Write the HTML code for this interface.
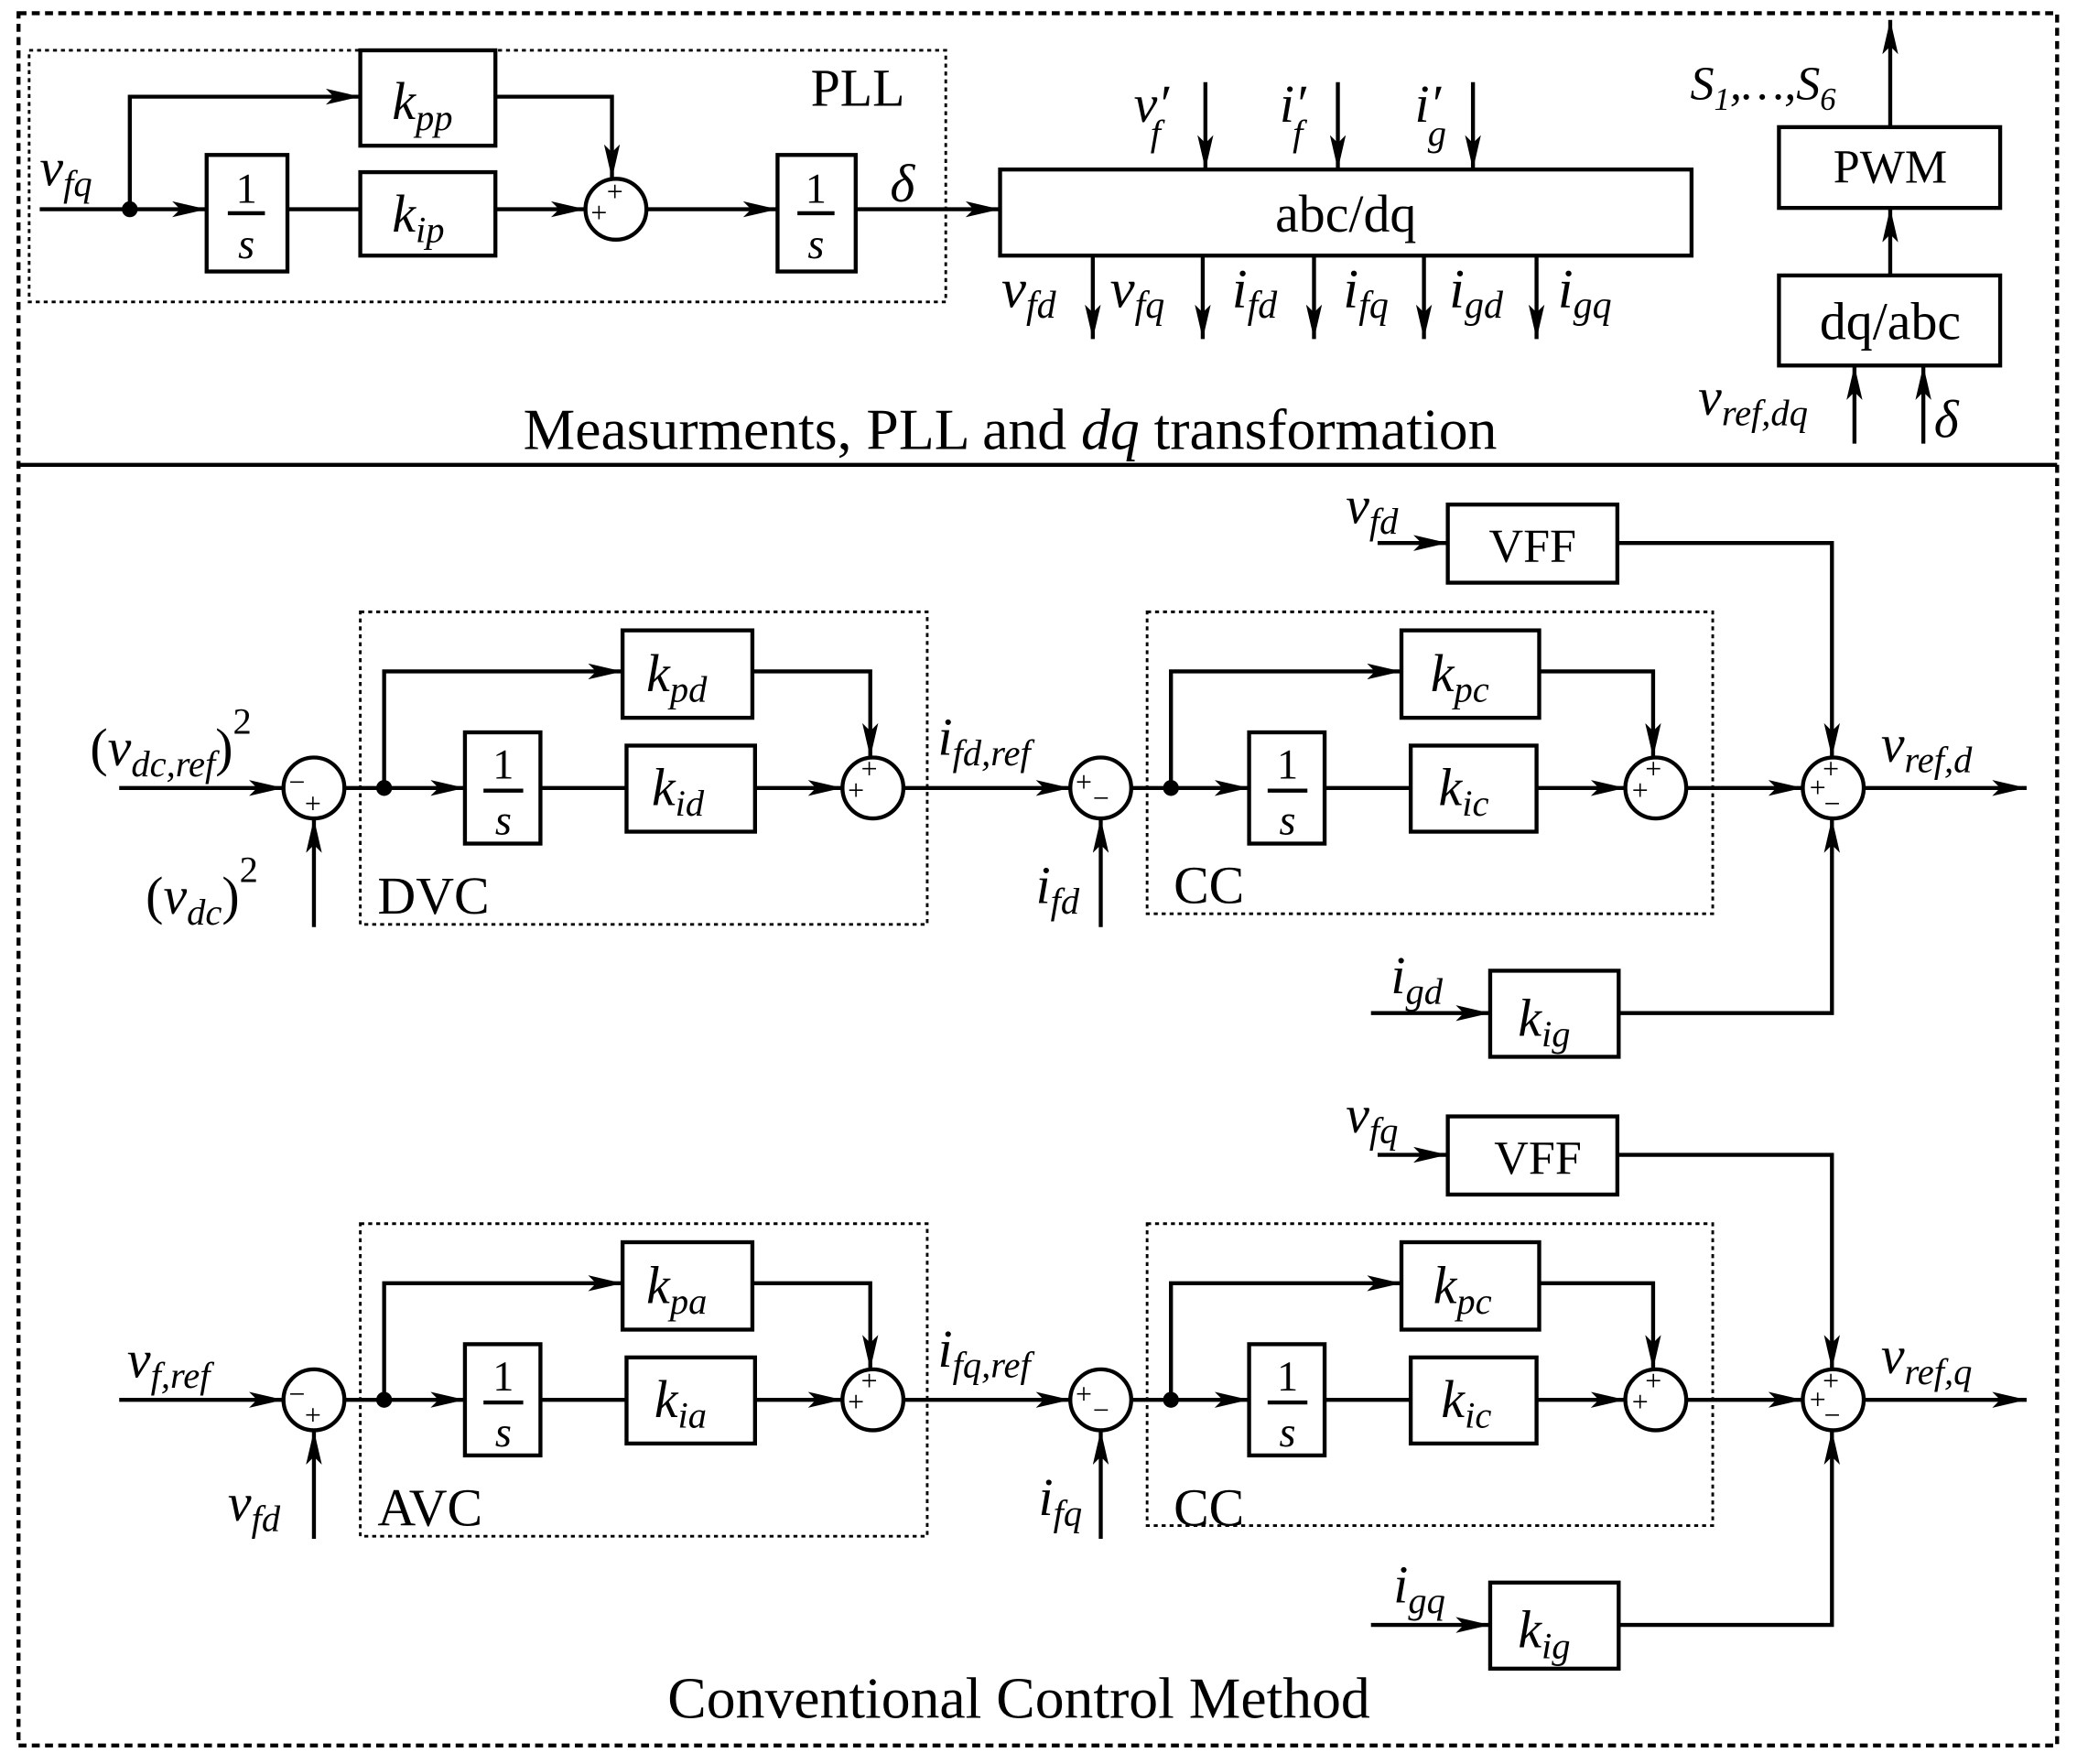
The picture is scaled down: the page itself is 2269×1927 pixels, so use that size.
<!DOCTYPE html>
<html><head><meta charset="utf-8"><style>
html,body{margin:0;padding:0;background:#fff}
svg{display:block}
text{font-family:"Liberation Serif",serif;fill:#000}
.i{font-style:italic}
</style></head><body>
<svg width="2269" height="1927" viewBox="0 0 1568 1332" preserveAspectRatio="none" xmlns="http://www.w3.org/2000/svg">
<defs>
<marker id="a" viewBox="0 0 26 12" refX="26" refY="6" markerWidth="26" markerHeight="12" markerUnits="userSpaceOnUse" orient="auto"><path d="M0,0 L26,6 L0,12 L6,6 z" fill="#000"/></marker>
</defs>
<g fill="none" stroke="#000" stroke-width="3">
<rect x="14" y="10" width="1539" height="1308" stroke-dasharray="6,4"/>
<line x1="14" y1="351" x2="1553" y2="351"/>
<rect x="22" y="38" width="692" height="190" stroke-width="2" stroke-dasharray="3,3"/>
<rect x="272" y="38" width="102" height="72"/>
<rect x="272" y="130" width="102" height="63"/>
<rect x="156" y="117" width="61" height="88"/>
<rect x="587" y="117" width="59" height="88"/>
<circle cx="465" cy="158" r="23"/>
<rect x="755" y="128" width="522" height="65"/>
<rect x="1343" y="96" width="167" height="61"/>
<rect x="1343" y="208" width="167" height="68"/>
<line x1="30" y1="158" x2="156" y2="158" marker-end="url(#a)"/>
<polyline points="98,158 98,73 272,73" marker-end="url(#a)"/>
<polyline points="374,73 462,73 462,135" marker-end="url(#a)"/>
<line x1="217" y1="158" x2="272" y2="158"/>
<line x1="374" y1="158" x2="442" y2="158" marker-end="url(#a)"/>
<line x1="488" y1="158" x2="587" y2="158" marker-end="url(#a)"/>
<line x1="646" y1="158" x2="755" y2="158" marker-end="url(#a)"/>
<line x1="910" y1="62" x2="910" y2="128" marker-end="url(#a)"/>
<line x1="1010" y1="62" x2="1010" y2="128" marker-end="url(#a)"/>
<line x1="1112" y1="62" x2="1112" y2="128" marker-end="url(#a)"/>
<line x1="825" y1="193" x2="825" y2="256" marker-end="url(#a)"/>
<line x1="908" y1="193" x2="908" y2="256" marker-end="url(#a)"/>
<line x1="992" y1="193" x2="992" y2="256" marker-end="url(#a)"/>
<line x1="1075" y1="193" x2="1075" y2="256" marker-end="url(#a)"/>
<line x1="1160" y1="193" x2="1160" y2="256" marker-end="url(#a)"/>
<line x1="1427" y1="96" x2="1427" y2="15" marker-end="url(#a)"/>
<line x1="1427" y1="208" x2="1427" y2="157" marker-end="url(#a)"/>
<line x1="1400" y1="335" x2="1400" y2="276" marker-end="url(#a)"/>
<line x1="1452" y1="335" x2="1452" y2="276" marker-end="url(#a)"/>

<g id="row">
<rect x="272" y="462" width="428" height="236" stroke-width="2" stroke-dasharray="3,3"/>
<rect x="866" y="462" width="427" height="228" stroke-width="2" stroke-dasharray="3,3"/>
<rect x="470" y="476" width="98" height="66"/>
<rect x="351" y="553" width="57" height="84"/>
<rect x="473" y="563" width="97" height="65"/>
<rect x="1058" y="476" width="104" height="66"/>
<rect x="943" y="553" width="57" height="84"/>
<rect x="1065" y="563" width="95" height="65"/>
<rect x="1093" y="381" width="128" height="59"/>
<rect x="1125" y="733" width="97" height="65"/>
<circle cx="237" cy="595" r="23"/>
<circle cx="659" cy="595" r="23"/>
<circle cx="831" cy="595" r="23"/>
<circle cx="1250" cy="595" r="23"/>
<circle cx="1384" cy="595" r="23"/>
<line x1="90" y1="595" x2="214" y2="595" marker-end="url(#a)"/>
<line x1="237" y1="700" x2="237" y2="618" marker-end="url(#a)"/>
<line x1="260" y1="595" x2="351" y2="595" marker-end="url(#a)"/>
<polyline points="290,595 290,507 470,507" marker-end="url(#a)"/>
<polyline points="568,507 657,507 657,572" marker-end="url(#a)"/>
<line x1="408" y1="595" x2="473" y2="595"/>
<line x1="570" y1="595" x2="636" y2="595" marker-end="url(#a)"/>
<line x1="682" y1="595" x2="808" y2="595" marker-end="url(#a)"/>
<line x1="831" y1="700" x2="831" y2="618" marker-end="url(#a)"/>
<line x1="854" y1="595" x2="943" y2="595" marker-end="url(#a)"/>
<polyline points="884,595 884,507 1058,507" marker-end="url(#a)"/>
<polyline points="1162,507 1248,507 1248,572" marker-end="url(#a)"/>
<line x1="1000" y1="595" x2="1065" y2="595"/>
<line x1="1160" y1="595" x2="1227" y2="595" marker-end="url(#a)"/>
<line x1="1273" y1="595" x2="1361" y2="595" marker-end="url(#a)"/>
<line x1="1407" y1="595" x2="1530" y2="595" marker-end="url(#a)"/>
<line x1="1040" y1="410" x2="1093" y2="410" marker-end="url(#a)"/>
<polyline points="1221,410 1383,410 1383,572" marker-end="url(#a)"/>
<line x1="1035" y1="765" x2="1125" y2="765" marker-end="url(#a)"/>
<polyline points="1222,765 1383,765 1383,618" marker-end="url(#a)"/>
</g>
<use href="#row" transform="translate(0,462)"/>
</g>
<circle cx="98" cy="158" r="6"/>
<circle cx="290" cy="595" r="6"/>
<circle cx="884" cy="595" r="6"/>
<circle cx="290" cy="1057" r="6"/>
<circle cx="884" cy="1057" r="6"/>
<g font-size="40">
<text x="30" y="140" class="i">v<tspan font-size="28" dy="8">fq</tspan></text>
<text x="296" y="90" class="i">k<tspan font-size="28" dy="8">pp</tspan></text>
<text x="296" y="175" class="i">k<tspan font-size="28" dy="8">ip</tspan></text>
<text x="612" y="80">PLL</text>
<text x="186" y="153" text-anchor="middle" font-size="32">1</text>
<line x1="172" y1="161" x2="200" y2="161" stroke="#000" stroke-width="3"/>
<text x="186" y="195" text-anchor="middle" font-size="32" class="i">s</text>
<text x="616" y="153" text-anchor="middle" font-size="32">1</text>
<line x1="602" y1="161" x2="630" y2="161" stroke="#000" stroke-width="3"/>
<text x="616" y="195" text-anchor="middle" font-size="32" class="i">s</text>
<text x="672" y="152" class="i">δ</text>
<text x="1016" y="175" text-anchor="middle">abc/dq</text>
<text x="856" y="92" class="i">v′<tspan font-size="28" dx="-14" dy="18">f</tspan></text>
<text x="966" y="92" class="i">i′<tspan font-size="28" dx="-10" dy="18">f</tspan></text>
<text x="1068" y="92" class="i">i′<tspan font-size="28" dx="-10" dy="18">g</tspan></text>
<g font-size="42">
<text x="756" y="232" class="i">v<tspan font-size="29" dy="8">fd</tspan></text>
<text x="838" y="232" class="i">v<tspan font-size="29" dy="8">fq</tspan></text>
<text x="930" y="232" class="i">i<tspan font-size="29" dy="8">fd</tspan></text>
<text x="1014" y="232" class="i">i<tspan font-size="29" dy="8">fq</tspan></text>
<text x="1094" y="232" class="i">i<tspan font-size="29" dy="8">gd</tspan></text>
<text x="1176" y="232" class="i">i<tspan font-size="29" dy="8">gq</tspan></text>
</g>
<text x="1276" y="75" class="i" font-size="36">S<tspan font-size="24" dy="8">1</tspan><tspan dy="-8">,…,S</tspan><tspan font-size="24" dy="8">6</tspan></text>
<text x="1427" y="138" text-anchor="middle" font-size="36">PWM</text>
<text x="1427" y="256" text-anchor="middle">dq/abc</text>
<text x="1282" y="313" class="i">v<tspan font-size="28" dy="8">ref,dq</tspan></text>
<text x="1460" y="330" class="i">δ</text>
<text x="395" y="339" font-size="44">Measurments, PLL and <tspan class="i">dq</tspan> transformation</text>
<text x="504" y="1297" font-size="44">Conventional Control Method</text>
</g>
<g font-size="40">
<text x="68" y="578">(<tspan class="i">v</tspan><tspan class="i" font-size="28" dy="8">dc,ref</tspan><tspan dy="-8">)</tspan><tspan font-size="28" dy="-24">2</tspan></text>
<text x="110" y="690">(<tspan class="i">v</tspan><tspan class="i" font-size="28" dy="8">dc</tspan><tspan dy="-8">)</tspan><tspan font-size="28" dy="-24">2</tspan></text>
<text x="285" y="690">DVC</text>
<text x="488" y="522" class="i">k<tspan font-size="28" dy="8">pd</tspan></text>
<text x="492" y="608" class="i">k<tspan font-size="28" dy="8">id</tspan></text>
<text x="708" y="570" class="i">i<tspan font-size="28" dy="8">fd,ref</tspan></text>
<text x="782" y="682" class="i">i<tspan font-size="28" dy="8">fd</tspan></text>
<text x="886" y="682">CC</text>
<text x="1080" y="522" class="i">k<tspan font-size="28" dy="8">pc</tspan></text>
<text x="1086" y="608" class="i">k<tspan font-size="28" dy="8">ic</tspan></text>
<text x="1157" y="424" text-anchor="middle" font-size="36">VFF</text>
<text x="1016" y="395" class="i">v<tspan font-size="28" dy="8">fd</tspan></text>
<text x="1050" y="750" class="i">i<tspan font-size="28" dy="8">gd</tspan></text>
<text x="1146" y="782" class="i">k<tspan font-size="28" dy="8">ig</tspan></text>
<text x="1420" y="575" class="i">v<tspan font-size="28" dy="8">ref,d</tspan></text>
<text x="380" y="588" text-anchor="middle" font-size="32">1</text>
<line x1="365" y1="597" x2="395" y2="597" stroke="#000" stroke-width="3"/>
<text x="380" y="630" text-anchor="middle" font-size="32" class="i">s</text>
<text x="972" y="588" text-anchor="middle" font-size="32">1</text>
<line x1="957" y1="597" x2="987" y2="597" stroke="#000" stroke-width="3"/>
<text x="972" y="630" text-anchor="middle" font-size="32" class="i">s</text>
<text x="96" y="1040" class="i">v<tspan font-size="28" dy="8">f,ref</tspan></text>
<text x="172" y="1148" class="i">v<tspan font-size="28" dy="8">fd</tspan></text>
<text x="285" y="1152">AVC</text>
<text x="488" y="984" class="i">k<tspan font-size="28" dy="8">pa</tspan></text>
<text x="494" y="1070" class="i">k<tspan font-size="28" dy="8">ia</tspan></text>
<text x="708" y="1032" class="i">i<tspan font-size="28" dy="8">fq,ref</tspan></text>
<text x="784" y="1144" class="i">i<tspan font-size="28" dy="8">fq</tspan></text>
<text x="886" y="1152">CC</text>
<text x="1082" y="984" class="i">k<tspan font-size="28" dy="8">pc</tspan></text>
<text x="1088" y="1070" class="i">k<tspan font-size="28" dy="8">ic</tspan></text>
<text x="1161" y="886" text-anchor="middle" font-size="36">VFF</text>
<text x="1016" y="855" class="i">v<tspan font-size="28" dy="8">fq</tspan></text>
<text x="1052" y="1210" class="i">i<tspan font-size="28" dy="8">gq</tspan></text>
<text x="1146" y="1244" class="i">k<tspan font-size="28" dy="8">ig</tspan></text>
<text x="1420" y="1037" class="i">v<tspan font-size="28" dy="8">ref,q</tspan></text>
<text x="380" y="1050" text-anchor="middle" font-size="32">1</text>
<line x1="365" y1="1059" x2="395" y2="1059" stroke="#000" stroke-width="3"/>
<text x="380" y="1092" text-anchor="middle" font-size="32" class="i">s</text>
<text x="972" y="1050" text-anchor="middle" font-size="32">1</text>
<line x1="957" y1="1059" x2="987" y2="1059" stroke="#000" stroke-width="3"/>
<text x="972" y="1092" text-anchor="middle" font-size="32" class="i">s</text>
</g>
<g font-size="22">
<text x="458" y="152">+</text><text x="446" y="168">+</text>
<text x="218" y="598">−</text><text x="230" y="614">+</text>
<text x="650" y="588">+</text><text x="640" y="604">+</text>
<text x="812" y="598">+</text><text x="825" y="610">−</text>
<text x="1242" y="588">+</text><text x="1232" y="604">+</text>
<text x="1376" y="588">+</text><text x="1366" y="602">+</text><text x="1377" y="614">−</text>
<text x="218" y="1060">−</text><text x="230" y="1076">+</text>
<text x="650" y="1050">+</text><text x="640" y="1066">+</text>
<text x="812" y="1060">+</text><text x="825" y="1072">−</text>
<text x="1242" y="1050">+</text><text x="1232" y="1066">+</text>
<text x="1376" y="1050">+</text><text x="1366" y="1064">+</text><text x="1377" y="1076">−</text>
</g>
</svg>
</body></html>
